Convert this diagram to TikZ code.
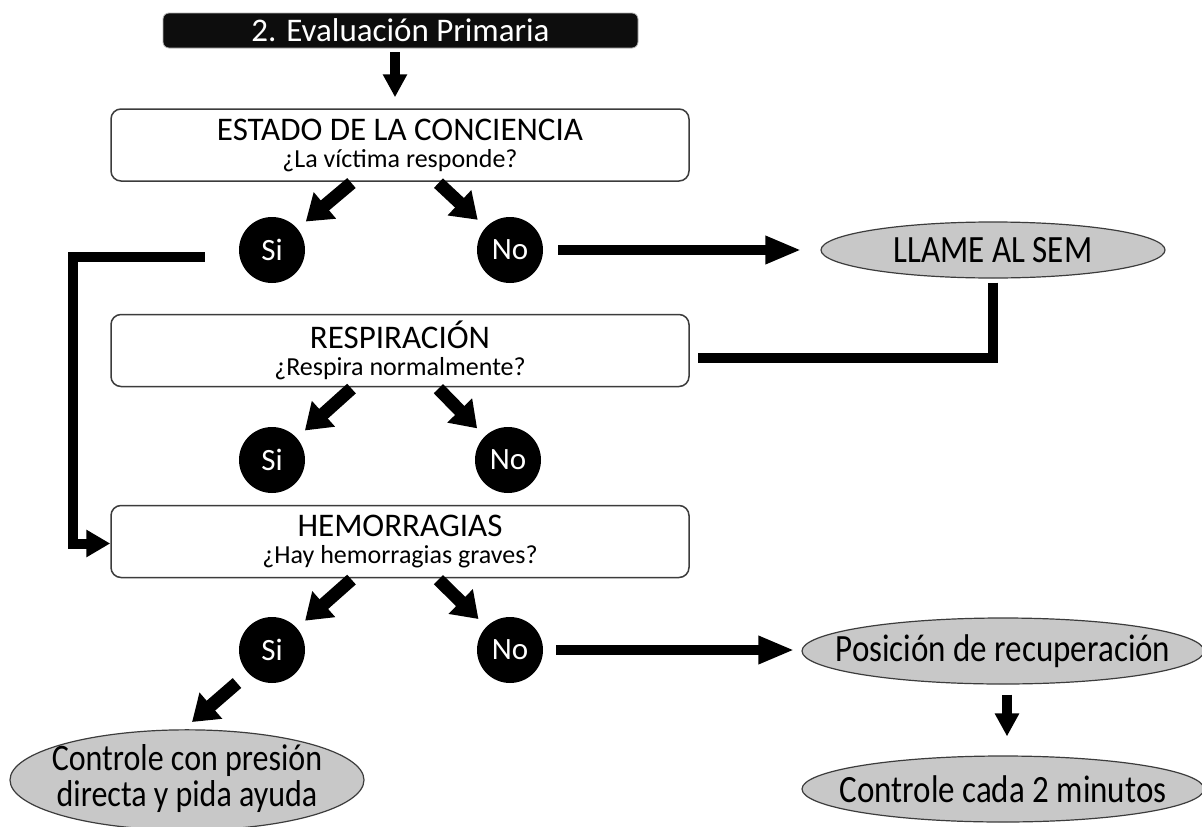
\documentclass[tikz,border=0pt]{standalone}
\usepackage{fontspec}
\setmainfont{Carlito}
\usetikzlibrary{arrows.meta,shapes.geometric}
\definecolor{ellfill}{RGB}{200,200,200}
\definecolor{edge}{RGB}{60,60,60}
\newcommand{\tallt}[1]{\scalebox{1}[1.17]{#1}}
\begin{document}
\begin{tikzpicture}[x=1pt,y=-1pt,
  qbox/.style={draw=edge,line width=1.5pt,rounded corners=10pt,minimum width=578pt,minimum height=72pt,inner sep=0pt,align=center,font=\fontsize{26}{27}\selectfont},
  dot/.style={circle,fill=black,minimum size=66pt,inner sep=0pt,text=white,font=\fontsize{31}{31}\selectfont},
  oval/.style={ellipse,draw=edge,line width=1.2pt,fill=ellfill,inner sep=0pt,font=\fontsize{33}{33}\selectfont},
  thickln/.style={line width=10pt},
  harrow/.style={line width=10pt,-{Triangle[length=36pt,width=26pt]}},
  varrow/.style={line width=10pt,-{Triangle[length=23pt,width=23pt]}},
  darrow/.style={line width=13pt,-{Triangle[length=25pt,width=33pt]}},
]
\useasboundingbox[fill=white] (0,0) rectangle (1202,827);

\node[fill=black!95,draw=gray!60,line width=0.8pt,rounded corners=6pt,minimum width=475pt,minimum height=35pt,inner sep=0pt,text=white,font=\fontsize{33}{33}\selectfont] (title) at (400.5,30.5) {2. Evaluación Primaria\hspace{26pt}};

\node[qbox] (b1) at (400,145) {\fontsize{33}{27}\selectfont ESTADO DE LA CONCIENCIA\\\fontsize{26}{27}\selectfont ¿La víctima responde?};
\node[dot] (si1) at (272,250) {Si};
\node[dot] (no1) at (510,250) {No};
\node[oval,minimum width=344pt,minimum height=56pt] (sem) at (993,250) {\makebox[0pt]{\tallt{LLAME AL SEM}}};

\node[qbox] (b2) at (400,350.5) {\fontsize{33}{27}\selectfont RESPIRACIÓN\\\fontsize{26}{27}\selectfont ¿Respira normalmente?};
\node[dot] (si2) at (272,460) {Si};
\node[dot] (no2) at (508,460) {No};

\node[qbox] (b3) at (400,541.5) {\fontsize{33}{27}\selectfont HEMORRAGIAS\\\fontsize{26}{27}\selectfont ¿Hay hemorragias graves?};
\node[dot] (si3) at (272,650) {Si};
\node[dot] (no3) at (510,650) {No};

\node[oval,minimum width=402pt,minimum height=66pt] (pos) at (1003,651) {\makebox[0pt]{\tallt{Posición de recuperación}}};
\node[oval,minimum width=402pt,minimum height=66pt] (ctl) at (1003,789) {\makebox[0pt]{\tallt{Controle cada 2 minutos}}};
\node[oval,minimum width=354pt,minimum height=94pt] (pres) at (187,780) {\makebox[0pt]{\tallt{\fontsize{32}{27}\selectfont\begin{tabular}{@{}c@{}}Controle con presión\\directa y pida ayuda\end{tabular}}}};

% connectors
\draw[varrow,shorten <=4pt,shorten >=11pt] (395,0 |- title.south) -- (395,0 |- b1.north);

\draw[darrow,shorten <=2pt,shorten >=11pt] (353,0 |- b1.south) -- (si1);
\draw[darrow,shorten <=2pt,shorten >=11pt] (437,0 |- b1.south) -- (no1);
\draw[darrow,shorten <=2pt,shorten >=11pt] (353,0 |- b2.south) -- (si2);
\draw[darrow,shorten <=2pt,shorten >=11pt] (437,0 |- b2.south) -- (no2);
\draw[darrow,shorten <=2pt,shorten >=11pt] (353,0 |- b3.south) -- (si3);
\draw[darrow,shorten <=2pt,shorten >=11pt] (437,0 |- b3.south) -- (no3);

\draw[harrow,shorten <=15pt,shorten >=19pt] (no1) -- (sem);
\draw[thickln,shorten <=4pt] (sem.south) |- ([shift={(8,7.5)}]b2.east);

\coordinate (lft) at (73,257);
\draw[line width=10pt,-{Triangle[length=24pt,width=26pt]}] ([shift={(-34,7)}]si1.west) -- (lft) |- ([shift={(0,2)}]b3.west);

\draw[harrow,shorten <=13pt,shorten >=7pt] (no3.east) -- (no3.east -| pos.west);
\draw[varrow,shorten <=10pt,shorten >=19pt] ([xshift=4pt]pos.south) -- ([xshift=4pt]ctl.north);
\draw[darrow] ([shift={(-35,33)}]si3.center) -- ([shift={(-80,72)}]si3.center);
\end{tikzpicture}
\end{document}
